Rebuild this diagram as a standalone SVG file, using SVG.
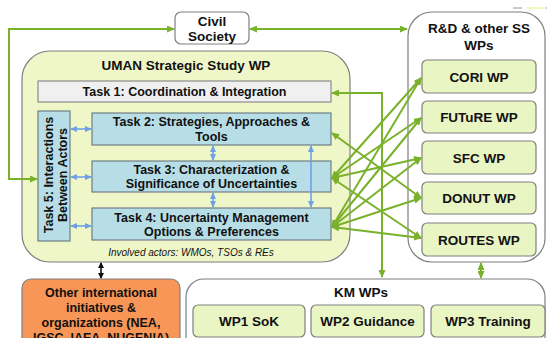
<svg xmlns="http://www.w3.org/2000/svg" width="547" height="338" viewBox="0 0 547 338">
<defs>
<style>
text{font-family:"Liberation Sans",Arial,sans-serif;font-weight:bold;fill:#111;text-anchor:middle}
.t{font-size:12.5px}
.h{font-size:13.5px}
.it{font-size:10px;font-weight:normal;font-style:italic}
.box{stroke:#7f7f7f;stroke-width:1.2}
.task{fill:#b7dde6;stroke:#6f7f84;stroke-width:1.2}
.wp{fill:#eaf5c4;stroke:#7f7f7f;stroke-width:1.2}
.g{fill:none;stroke:#79b12b;stroke-width:2;marker-start:url(#ga);marker-end:url(#ga)}
.b{fill:none;stroke:#6fa0e6;stroke-width:1.6;marker-start:url(#ba);marker-end:url(#ba)}
.k{fill:none;stroke:#111;stroke-width:1.6;marker-start:url(#ka);marker-end:url(#ka)}
</style>
<marker id="ga" viewBox="0 0 8 7" refX="7" refY="3.5" markerUnits="userSpaceOnUse" markerWidth="8" markerHeight="7" orient="auto-start-reverse"><path d="M0,0 L8,3.5 L0,7 z" fill="#79b12b"/></marker>
<marker id="ba" viewBox="0 0 7 6" refX="6" refY="3" markerUnits="userSpaceOnUse" markerWidth="7" markerHeight="6" orient="auto-start-reverse"><path d="M0,0 L7,3 L0,6 z" fill="#6fa0e6"/></marker>
<marker id="ka" viewBox="0 0 6 6" refX="5" refY="3" markerUnits="userSpaceOnUse" markerWidth="6" markerHeight="6" orient="auto-start-reverse"><path d="M0,0 L6,3 L0,6 z" fill="#111"/></marker>
</defs>
<rect width="547" height="338" fill="#fff"/>
<line x1="513" y1="8" x2="522" y2="8" stroke="#9a9a80" stroke-width="1"/>
<line x1="527" y1="8" x2="543" y2="8" stroke="#e6f07a" stroke-width="1"/>
<line x1="545" y1="8" x2="547" y2="8" stroke="#f79646" stroke-width="1"/>

<g id="uman">
<rect class="box" x="22" y="51" width="328" height="211" rx="28" fill="#eff7c9"/>
<text class="h" x="186" y="69.5">UMAN Strategic Study WP</text>
<text class="it" x="191" y="256">Involved actors: WMOs, TSOs &amp; REs</text>
</g>
<g id="task1">
<rect x="38" y="81" width="293" height="21" fill="#f0f0f0" stroke="#8a8a8a" stroke-width="1.2"/>
<text class="t" x="184.5" y="96">Task 1: Coordination &amp; Integration</text>
</g>
<g id="task5">
<rect class="task" x="38" y="111" width="32" height="130"/>
<text class="t" transform="translate(52.5,175) rotate(-90)">Task 5: Interactions</text>
<text class="t" transform="translate(66.5,175) rotate(-90)">Between Actors</text>
</g>
<g id="task2">
<rect class="task" x="92" y="113" width="239" height="32"/>
<text class="t" x="211.5" y="126">Task 2: Strategies, Approaches &amp;</text>
<text class="t" x="211.5" y="140.5">Tools</text>
</g>
<g id="task3">
<rect class="task" x="92" y="161" width="239" height="31"/>
<text class="t" x="211.5" y="173.5">Task 3: Characterization &amp;</text>
<text class="t" x="211.5" y="188">Significance of Uncertainties</text>
</g>
<g id="task4">
<rect class="task" x="92" y="208" width="239" height="32"/>
<text class="t" x="211.5" y="221.5">Task 4: Uncertainty Management</text>
<text class="t" x="211.5" y="236">Options &amp; Preferences</text>
</g>
<g id="civil">
<rect class="box" x="175" y="12" width="74" height="32" rx="6" fill="#fff"/>
<text class="h" x="212" y="26">Civil</text>
<text class="h" x="212" y="41">Society</text>
</g>
<g id="rd">
<rect class="box" x="408" y="12" width="137" height="250" rx="24" fill="#fff"/>
<text class="h" x="479" y="33">R&amp;D &amp; other SS</text>
<text class="h" x="479" y="50">WPs</text>
</g>
<g id="cori"><rect class="wp" x="422" y="60" width="114" height="33" rx="5"/><text class="h" x="479" y="81.5">CORI WP</text></g>
<g id="future"><rect class="wp" x="422" y="101" width="114" height="32" rx="5"/><text class="h" x="479" y="122">FUTuRE WP</text></g>
<g id="sfc"><rect class="wp" x="422" y="141" width="114" height="33" rx="5"/><text class="h" x="479" y="162.5">SFC WP</text></g>
<g id="donut"><rect class="wp" x="422" y="182" width="114" height="32" rx="5"/><text class="h" x="479" y="203">DONUT WP</text></g>
<g id="routes"><rect class="wp" x="422" y="223" width="114" height="33" rx="5"/><text class="h" x="479" y="244.5">ROUTES WP</text></g>
<g id="other">
<rect x="22" y="279" width="158" height="80" rx="9" fill="#f79656" stroke="#7f7f7f" stroke-width="1.2"/>
<text class="t" x="101" y="296.5">Other international</text>
<text class="t" x="101" y="311.5">initiatives &amp;</text>
<text class="t" x="101" y="326.5">organizations (NEA,</text>
<text class="t" x="101" y="341.5">IGSC, IAEA, NUGENIA)</text>
</g>
<g id="km">
<rect class="box" x="186" y="279" width="359" height="80" rx="18" fill="#fff"/>
<text class="h" x="361" y="297">KM WPs</text>
</g>
<g id="wp1"><rect class="wp" x="193" y="305" width="112" height="32" rx="5"/><text class="h" x="249" y="326">WP1 SoK</text></g>
<g id="wp2"><rect class="wp" x="311" y="305" width="113" height="32" rx="5"/><text class="h" x="367.5" y="326">WP2 Guidance</text></g>
<g id="wp3"><rect class="wp" x="431" y="305" width="114" height="32" rx="5"/><text class="h" x="488" y="326">WP3 Training</text></g>

<g id="connectors">
<path class="g" d="M37,179 H9 V29 H174"/>
<path class="g" d="M250,29 H407"/>
<path class="g" d="M332,93 H382 V277"/>
<line class="g" x1="332" y1="133" x2="421" y2="198"/>
<line class="g" x1="332" y1="178" x2="421" y2="78"/>
<line class="g" x1="332" y1="178" x2="421" y2="118"/>
<line class="g" x1="332" y1="178" x2="421" y2="158"/>
<line class="g" x1="332" y1="178" x2="421" y2="238"/>
<line class="g" x1="332" y1="227" x2="421" y2="78"/>
<line class="g" x1="332" y1="227" x2="421" y2="118"/>
<line class="g" x1="332" y1="227" x2="421" y2="158"/>
<line class="g" x1="332" y1="227" x2="421" y2="198"/>
<line class="g" x1="332" y1="227" x2="421" y2="238"/>
<line class="g" x1="481" y1="263" x2="481" y2="278"/>
<line class="b" x1="71" y1="129" x2="91" y2="129"/>
<line class="b" x1="71" y1="177" x2="91" y2="177"/>
<line class="b" x1="71" y1="226" x2="91" y2="226"/>
<line class="b" x1="213" y1="146" x2="213" y2="160"/>
<line class="b" x1="213" y1="193" x2="213" y2="207"/>
<line class="b" x1="311" y1="146" x2="311" y2="207"/>
<line class="k" x1="101" y1="263" x2="101" y2="278"/>
</g>
</svg>
